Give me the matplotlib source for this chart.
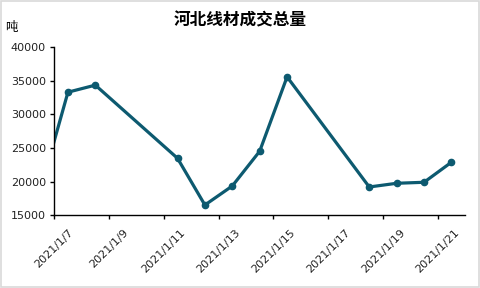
import numpy as np
import pandas as pd
import matplotlib.pyplot as plt
from matplotlib.patches import Rectangle

plt.rcParams['font.family'] = ['Noto Sans CJK SC', 'DejaVu Sans']

dates = ["2021-01-06", "2021-01-07", "2021-01-08", "2021-01-11", "2021-01-12", "2021-01-13",
         "2021-01-14", "2021-01-15", "2021-01-18", "2021-01-19", "2021-01-20", "2021-01-21"]
volume = [18800, 33300, 34350, 23480, 16530, 19360, 24520, 35580, 19210, 19760, 19910, 22890]
tick_dates = ["2021-01-07", "2021-01-09", "2021-01-11", "2021-01-13",
              "2021-01-15", "2021-01-17", "2021-01-19", "2021-01-21"]
tick_labels = ["2021/1/7", "2021/1/9", "2021/1/11", "2021/1/13",
               "2021/1/15", "2021/1/17", "2021/1/19", "2021/1/21"]

# excel date axis: points sit in the middle of each day
x = pd.to_datetime(dates) + pd.Timedelta(hours=12)

fig = plt.figure(figsize=(4.8, 2.88), dpi=100)
ax = fig.add_axes([0.113, 0.2524, 0.856, 0.584])
ax.plot(x, volume, color="#0D5A70", lw=2.3, marker="o", ms=4.5)

ax.set_xlim(pd.Timestamp("2021-01-07"), pd.Timestamp("2021-01-22"))
ax.set_ylim(15000, 40000)
ax.set_yticks(np.arange(15000, 40001, 5000))
ax.set_xticks(pd.to_datetime(tick_dates))
ax.set_xticklabels(tick_labels, rotation=45, ha="center")

for s in ["top", "right"]:
    ax.spines[s].set_visible(False)
for s in ["left", "bottom"]:
    ax.spines[s].set_linewidth(1.0)
ax.tick_params(axis="both", direction="out", length=3, width=1, labelsize=8)
ax.tick_params(axis="x", pad=6)
ax.tick_params(axis="y", pad=3)
for lab in ax.get_xticklabels() + ax.get_yticklabels():
    lab.set_fontfamily("DejaVu Sans")
    lab.set_color("#222222")

fig.text(0.5, 0.93, "河北线材成交总量", ha="center", va="center", fontsize=12, fontweight="bold")
fig.text(0.01, 0.905, "吨", ha="left", va="center", fontsize=9)

fig.patches.append(Rectangle((0.002, 0.003), 0.996, 0.994, transform=fig.transFigure,
                             fill=False, edgecolor="#d9d9d9", lw=1.2))

fig.savefig("out.png", dpi=100)
